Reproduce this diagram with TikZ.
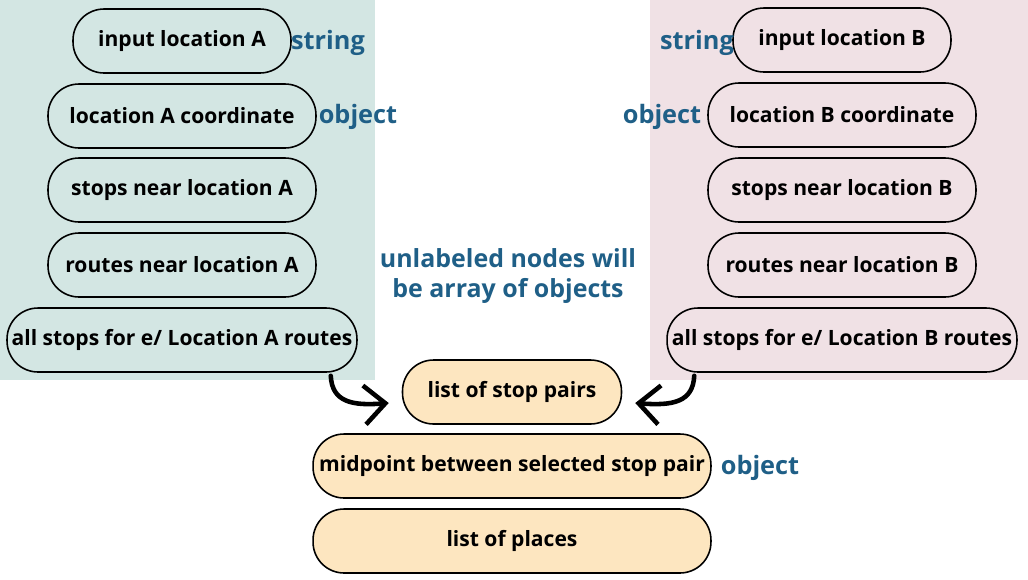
\documentclass[tikz,border=0pt]{standalone}
\usepackage{fontspec}
\setmainfont{Open Sans}
\usetikzlibrary{arrows.meta}
\definecolor{leftbg}{HTML}{D3E6E3}
\definecolor{rightbg}{HTML}{F0E1E5}
\definecolor{peach}{HTML}{FDE6C0}
\definecolor{typeblue}{HTML}{1F5F87}
\tikzset{
  pill/.style={draw=black, line width=0.9pt, rounded corners=0.62cm, minimum height=1.28cm,
    inner sep=0pt, font=\bfseries\fontsize{12}{14}\selectfont, text=black},
  pillA/.style={pill, fill=leftbg},
  pillB/.style={pill, fill=rightbg},
  pillC/.style={pill, fill=peach},
  typelbl/.style={font=\bfseries\fontsize{14.4}{16}\selectfont, text=typeblue, inner sep=0pt},
  arr/.style={line width=2.6pt, line cap=round, -{Straight Barb[length=0.42cm,width=0.78cm,line width=2.6pt]}},
}
\begin{document}
\begin{tikzpicture}[x=0.02cm,y=-0.02cm]
\useasboundingbox (0,0) rectangle (1028,579);
\fill[leftbg] (0,0) rectangle (375,380);
\fill[rightbg] (650,0) rectangle (1028,380);

% left column
\node[pillA, minimum width=4.36cm] (a1) at (182,41) {input location A};
\node[pillA, minimum width=5.36cm] (a2) at (182,116) {location A coordinate};
\node[pillA, minimum width=5.36cm] (a3) at (182,190) {stops near location A};
\node[pillA, minimum width=5.36cm] (a4) at (182,265) {routes near location A};
\node[pillA, minimum width=7.0cm] (a5) at (182,340) {all stops for e/ Location A routes};
\node[typelbl] (sa) at (328,43) {string};
\node[typelbl] (oa) at (358,117) {object};

% right column
\node[pillB, minimum width=4.36cm] (b1) at (842,40) {input location B};
\node[pillB, minimum width=5.36cm] (b2) at (842,115) {location B coordinate};
\node[pillB, minimum width=5.36cm] (b3) at (842,190) {stops near location B};
\node[pillB, minimum width=5.36cm] (b4) at (842,265) {routes near location B};
\node[pillB, minimum width=7.0cm] (b5) at (842,340) {all stops for e/ Location B routes};
\node[typelbl] (sb) at (697,43) {string};
\node[typelbl] (ob) at (662,117) {object};

% middle note
\node[typelbl, align=center, font=\bfseries\fontsize{14.2}{17.5}\selectfont] (note) at (508,276) {unlabeled nodes will\\be array of objects};

% bottom
\node[pillC, minimum width=4.38cm] (c1) at (512,392) {list of stop pairs};
\node[pillC, minimum width=7.96cm] (c2) at (512,466) {midpoint between selected stop pair};
\node[pillC, minimum width=7.96cm] (c3) at (512,541) {list of places};
\node[typelbl] (oc) at (760,468) {object};

% arrows
\draw[arr] ([xshift=-0.54cm,yshift=-0.06cm]a5.south east) .. controls (332,402) and (352,406) .. ([xshift=-0.26cm,yshift=-0.22cm]c1.west);
\draw[arr] ([xshift=0.56cm,yshift=-0.06cm]b5.south west) .. controls (693,402) and (673,406) .. ([xshift=0.26cm,yshift=-0.22cm]c1.east);
\end{tikzpicture}
\end{document}
